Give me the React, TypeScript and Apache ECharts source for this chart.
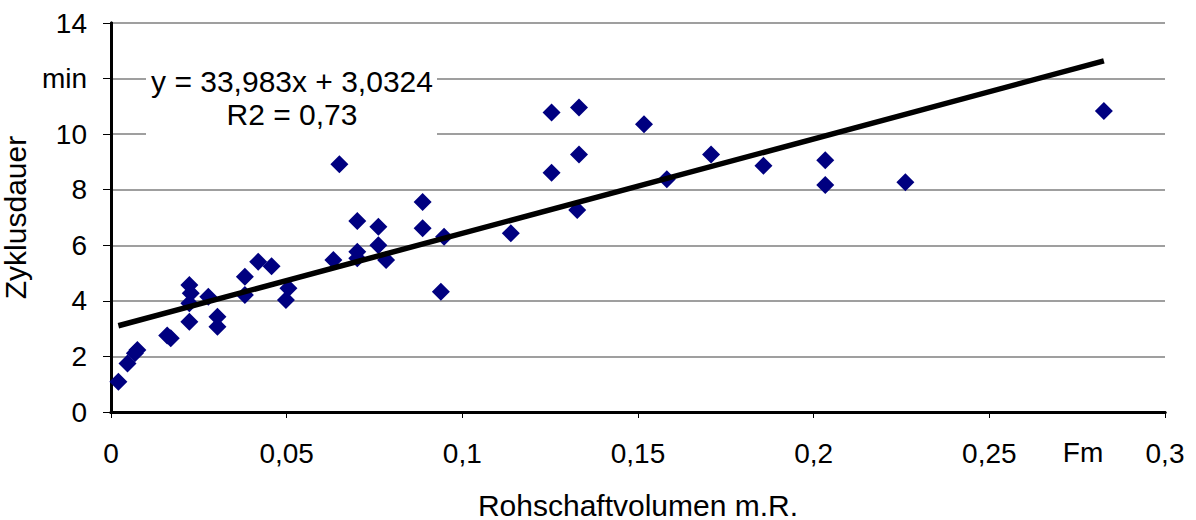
import React, { useEffect, useRef } from "react";
import * as echarts from "echarts";

const volumes: number[] = [
  0.0021, 0.0047, 0.0068, 0.0075, 0.016, 0.017, 0.0223, 0.0227, 0.0223, 0.0223,
  0.0277, 0.0303, 0.0303, 0.0381, 0.0381, 0.0419, 0.0457, 0.0505, 0.0498, 0.065,
  0.0633, 0.0701, 0.0701, 0.0701, 0.0761, 0.0761, 0.0783, 0.0887, 0.0887, 0.0948,
  0.0939, 0.1138, 0.1254, 0.1332, 0.1254, 0.1332, 0.1327, 0.1517, 0.1582, 0.1708,
  0.1857, 0.2033, 0.2033, 0.2261, 0.2826,
];
const durations: number[] = [
  1.09, 1.75, 2.11, 2.23, 2.75, 2.65, 4.57, 4.27, 3.91, 3.25,
  4.15, 3.43, 3.07, 4.87, 4.21, 5.41, 5.25, 4.45, 4.03, 8.92,
  5.47, 6.87, 5.77, 5.53, 6.67, 6.0, 5.47, 7.56, 6.61, 6.31,
  4.33, 6.43, 10.78, 10.96, 8.61, 9.27, 7.27, 10.36, 8.38, 9.27,
  8.86, 9.06, 8.17, 8.27, 10.83,
];
const trendSlope = 33.983;
const trendIntercept = 3.0324;
const equationText = "y = 33,983x + 3,0324";
const r2Text = "R2 = 0,73";
const yTickLabels: Record<number, string> = { 12: "min" };
const xUnitLabel = "Fm";
const xAxisTitle = "Rohschaftvolumen m.R.";
const yAxisTitle = "Zyklusdauer";

const FONT = "Liberation Sans, Arial, sans-serif";
const FS_TICK = 28;
const FS_TITLE = 30;

export default function App() {
  const ref = useRef<HTMLDivElement>(null);
  useEffect(() => {
    if (!ref.current) return;
    const chart = echarts.init(ref.current, null, { renderer: "svg" });
    const points = volumes.map((v, i) => [v, durations[i]]);
    const xMin = Math.min(...volumes);
    const xMax = Math.max(...volumes);
    const trend = [
      [xMin, trendSlope * xMin + trendIntercept],
      [xMax, trendSlope * xMax + trendIntercept],
    ];
    const borderAxis = {
      type: "value",
      axisLine: { show: true, lineStyle: { color: "#000", width: 3 } },
      axisTick: { show: false },
      axisLabel: { show: false },
      splitLine: { show: false },
    };
    chart.setOption({
      animation: false,
      backgroundColor: "#ffffff",
      grid: {
        left: 111,
        right: 31,
        top: 23,
        bottom: 108,
        containLabel: false,
        outerBoundsMode: "none",
      },
      xAxis: [
        {
          type: "value",
          min: 0,
          max: 0.3,
          interval: 0.05,
          name: xAxisTitle,
          nameLocation: "middle",
          nameGap: 78,
          nameTextStyle: { fontFamily: FONT, fontSize: FS_TITLE, color: "#000" },
          axisLine: { show: true, lineStyle: { color: "#000", width: 3 } },
          axisTick: { show: true, length: 6, lineStyle: { color: "#000", width: 1 } },
          axisLabel: {
            margin: 27,
            fontFamily: FONT,
            fontSize: FS_TICK,
            color: "#000",
            formatter: (v: number) => String(Math.round(v * 100) / 100).replace(".", ","),
          },
          splitLine: { show: false },
        },
        { ...borderAxis, position: "top", min: 0, max: 0.3 },
      ],
      yAxis: [
        {
          type: "value",
          min: 0,
          max: 14,
          interval: 2,
          name: yAxisTitle,
          nameLocation: "middle",
          nameRotate: 90,
          nameGap: 75,
          nameTextStyle: { fontFamily: FONT, fontSize: FS_TITLE, color: "#000" },
          axisLine: { show: true, lineStyle: { color: "#000", width: 3 } },
          axisTick: { show: true, length: 8, lineStyle: { color: "#000", width: 1 } },
          axisLabel: {
            margin: 24,
            fontFamily: FONT,
            fontSize: FS_TICK,
            color: "#000",
            formatter: (v: number) => yTickLabels[v] ?? String(v),
          },
          splitLine: { show: true, lineStyle: { color: "#7f7f7f", width: 1.5 } },
        },
        { ...borderAxis, position: "right", min: 0, max: 14 },
      ],
      graphic: [
        {
          type: "rect",
          z: 1,
          shape: { x: 146, y: 60, width: 291, height: 77 },
          style: { fill: "#fff" },
        },
        {
          type: "text",
          z: 2,
          x: 292,
          y: 81,
          style: {
            text: equationText,
            fontFamily: FONT,
            fontSize: FS_TITLE,
            fill: "#000",
            align: "center",
            verticalAlign: "middle",
          },
        },
        {
          type: "text",
          z: 2,
          x: 292,
          y: 114,
          style: {
            text: r2Text,
            fontFamily: FONT,
            fontSize: FS_TITLE,
            fill: "#000",
            align: "center",
            verticalAlign: "middle",
          },
        },
        {
          type: "text",
          z: 2,
          x: 1083,
          y: 452,
          style: {
            text: xUnitLabel,
            fontFamily: FONT,
            fontSize: FS_TICK,
            fill: "#000",
            align: "center",
            verticalAlign: "middle",
          },
        },
      ],
      series: [
        {
          type: "scatter",
          data: points,
          symbol: "diamond",
          symbolSize: 18,
          itemStyle: { color: "#000080", opacity: 1 },
          z: 3,
        },
        {
          type: "line",
          data: trend,
          showSymbol: false,
          symbol: "none",
          lineStyle: { color: "#000", width: 5.5 },
          z: 4,
        },
      ],
    });
    return () => chart.dispose();
  }, []);
  return (
    <div
      ref={ref}
      style={{ position: "fixed", left: 0, top: 0, width: 1196, height: 520 }}
    />
  );
}
